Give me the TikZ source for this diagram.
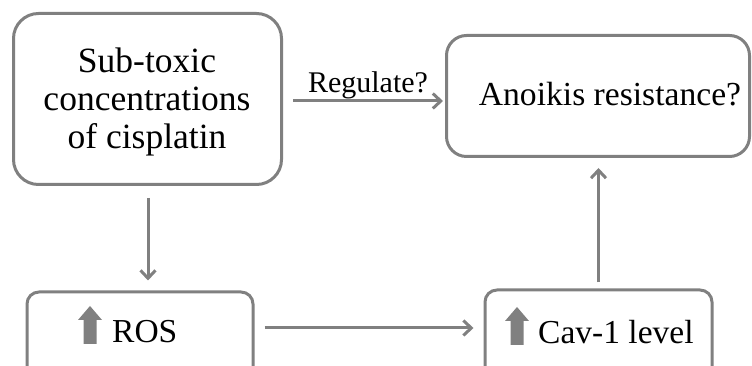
\documentclass[tikz,border=0pt]{standalone}
\usepackage{fontspec}
\setmainfont{Liberation Serif}
\usetikzlibrary{arrows.meta}
\definecolor{boxgray}{HTML}{808080}
\definecolor{arrgray}{HTML}{808080}
\tikzset{
  box/.style={draw=boxgray, line width=3pt, inner sep=0pt},
  txt/.style={inner sep=0pt, align=center, font=\fontsize{34}{38}\selectfont},
  conn/.style={draw=boxgray, line width=3pt, -{Straight Barb[length=8pt,width=15pt]}},
  uparr/.pic={\fill[arrgray] (-6.5,0) -- (6.5,0) -- (6.5,24) -- (12,24) -- (0,38) -- (-12,24) -- (-6.5,24) -- cycle;}
}
\begin{document}
\begin{tikzpicture}[x=1pt,y=1pt]
\useasboundingbox (0,0) rectangle (752,366);
\clip (0,0) rectangle (752,366);
\node[box, rounded corners=25pt, minimum width=268pt, minimum height=171pt] (b1) at (147.5,267) {};
\node[txt, font=\fontsize{35.5}{38}\selectfont] (t1) at (147,264) {Sub-toxic\\concentrations\\of cisplatin};
\node[box, rounded corners=20pt, minimum width=303pt, minimum height=121pt] (an) at (598,270) {};
\node[txt, anchor=base, font=\fontsize{33.6}{38}\selectfont] (t2) at (610,260) {Anoikis resistance?};
\node[box, rounded corners=12pt, minimum width=226pt, minimum height=88pt] (ros) at (140,30) {};
\node[box, rounded corners=12pt, minimum width=227pt, minimum height=90pt] (cav) at (598.5,31) {};
\pic at (90,22) {uparr};
\pic at (517,21) {uparr};
\node[txt, anchor=base west, font=\fontsize{33.5}{38}\selectfont] (t3) at (112,23) {ROS};
\node[txt, anchor=base west, font=\fontsize{33.5}{38}\selectfont] (t4) at (538,22) {Cav-1 level};
\coordinate (rl) at (0,38);
\coordinate (gl) at (0,265);
\draw[conn, shorten <=12pt, shorten >=10pt] ([xshift=0.5pt]b1.south) -- ([xshift=0.5pt]b1.south |- ros.north);
\draw[conn, shorten <=10pt, shorten >=10pt] (ros.east |- rl) -- (cav.west |- rl);
\draw[conn, shorten <=6pt, shorten >=10pt] (cav.north) -- (cav.north |- an.south);
\draw[conn, shorten <=10pt, shorten >=2pt] (b1.east |- gl) -- (an.west |- gl);
\node[inner sep=0pt, anchor=base, font=\fontsize{30}{34}\selectfont] (lab) at (368,273) {Regulate?};
\end{tikzpicture}
\end{document}
